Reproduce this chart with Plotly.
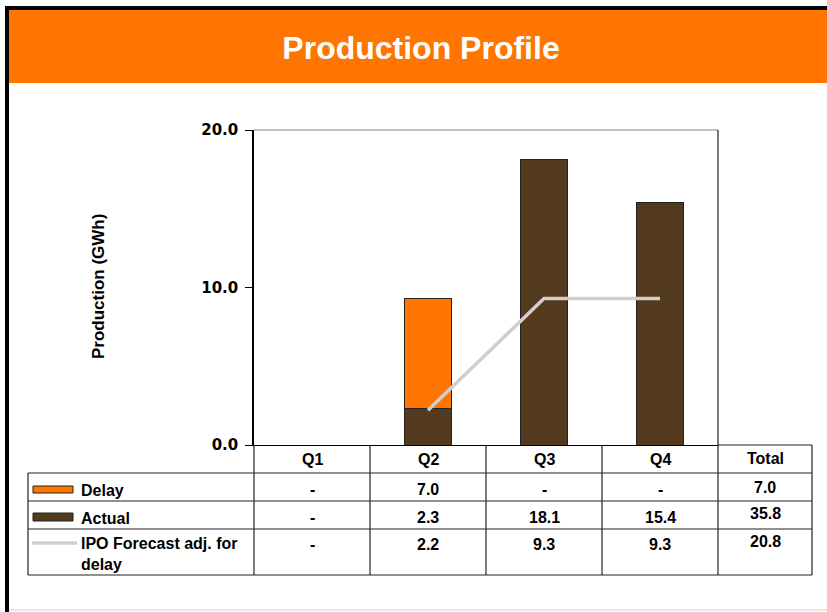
import plotly.graph_objects as go

# ---------------- data ----------------
categories = ["Q1", "Q2", "Q3", "Q4"]
delay = [None, 7.0, None, None]
actual = [None, 2.3, 18.1, 15.4]
ipo_forecast = [None, 2.2, 9.3, 9.3]
series_names = ["Delay", "Actual", "IPO Forecast adj. for<br>delay"]
y_ticks = [0, 10, 20]

# ---------------- styling ----------------
W, H = 827, 612
PL, PR, PT, PB = 254, 718, 130, 445   # plot area in pixels
ORANGE = "#FF7500"
BROWN = "#533A1E"
GREY_LINE = "#D2CFCA"
FONT = "Liberation Sans, Arial, sans-serif"
EDGE = "#222222"


def xp(px):
    return (px - PL) / (PR - PL)


def yp(py):
    return (PB - py) / (PB - PT)


def fmt(v):
    return "-" if v is None else f"{v:.1f}"


def total(vals):
    return sum(v for v in vals if v is not None)


fig = go.Figure()
fig.add_bar(x=categories, y=actual, name="Actual", marker=dict(color=BROWN, line=dict(color=EDGE, width=1)), width=0.4)
fig.add_bar(x=categories, y=delay, name="Delay", marker=dict(color=ORANGE, line=dict(color=EDGE, width=1)), width=0.4)
fig.add_scatter(x=categories, y=ipo_forecast, mode="lines", name="IPO Forecast",
                line=dict(color=GREY_LINE, width=3.5), connectgaps=False)

shapes = []


def rect(x0, y0, x1, y1, fill, line_color=None, lw=0):
    shapes.append(dict(type="rect", xref="paper", yref="paper",
                       x0=xp(x0), x1=xp(x1), y0=yp(y0), y1=yp(y1),
                       fillcolor=fill, line=dict(color=line_color or fill, width=lw)))


def line(x0, y0, x1, y1, color=EDGE, lw=1.2):
    shapes.append(dict(type="line", xref="paper", yref="paper",
                       x0=xp(x0), x1=xp(x1), y0=yp(y0), y1=yp(y1),
                       line=dict(color=color, width=lw)))


# header band and frame
rect(9, 10, 827, 83, ORANGE)
rect(5, 6, 827, 10, "#000000")
rect(5, 6, 9, 612, "#000000")
line(9, 610, 827, 610, color="#E4E4E4", lw=2)

# plot box top / right
line(PL, PT, PR, PT, color="#808080", lw=1)
line(PR, PT, PR, 575, color=EDGE, lw=1.2)

# table grid
row_lines = [473, 501, 529, 575]
for y in row_lines:
    line(28, y, 812, y)
line(PR, PB, 812, PB)
for x in [PL, 370, 486, 602, 812]:
    line(x, PB, x, 575)
line(28, 473, 28, 575)

# legend swatches
rect(33, 486, 73, 493, ORANGE, EDGE, 1)
rect(33, 513, 73, 521, BROWN, EDGE, 1)
line(32, 543, 77, 543, color=GREY_LINE, lw=3.5)

annotations = []
tfont = dict(family=FONT, size=16, color="black", weight="bold")


def ann(text, x, y, xref="paper", xanchor="center", **kw):
    annotations.append(dict(text=text, xref=xref, yref="paper", x=x, y=y,
                            xanchor=xanchor, yanchor="middle", showarrow=False,
                            font=kw.pop("font", tfont), **kw))


# y-axis title
ann("Production (GWh)", xp(98), yp(287), textangle=-90,
    font=dict(family=FONT, size=17, color="black", weight="bold"))

# table header
for c in categories:
    ann(c, c, yp(459), xref="x")
ann("Total", xp(765), yp(458))

# table rows
rows = [(delay, 489, 487), (actual, 517, 513), (ipo_forecast, 544, 541)]
for vals, yc, yt in rows:
    for c, v in zip(categories, vals):
        ann(fmt(v), c, yp(yc), xref="x")
    ann(fmt(total(vals)), xp(765), yp(yt))

label_y = [490, 518, 554]
for name, yc in zip(series_names, label_y):
    ann(name, xp(79), yp(yc), xanchor="left", align="left")

fig.update_layout(
    width=W, height=H,
    margin=dict(l=PL, r=W - PR, t=PT, b=H - PB, pad=0),
    paper_bgcolor="white", plot_bgcolor="white",
    barmode="stack", showlegend=False,
    title=dict(text="Production Profile", x=421 / W, y=1 - 47.5 / H, xref="container", yref="container",
               xanchor="center", yanchor="middle",
               font=dict(family=FONT, size=32, color="white", weight="bold")),
    xaxis=dict(type="category", categoryorder="array", categoryarray=categories, range=[-0.5, 3.5],
               showticklabels=False, ticks="", showgrid=False, zeroline=False,
               showline=True, linecolor="black", linewidth=1.2),
    yaxis=dict(range=[0, 20], tickvals=y_ticks, tickformat=".1f", ticks="outside", ticklen=7,
               tickwidth=1, tickcolor="black", showgrid=False, zeroline=False,
               showline=True, linecolor="black", linewidth=1.5, ticklabelstandoff=4,
               tickfont=dict(family="DejaVu Sans", size=15, color="black", weight="bold")),
    shapes=shapes, annotations=annotations,
)

fig.write_html("out.html", config={"displayModeBar": False},
               post_script="document.body.style.margin='0';document.body.style.overflow='hidden';")
